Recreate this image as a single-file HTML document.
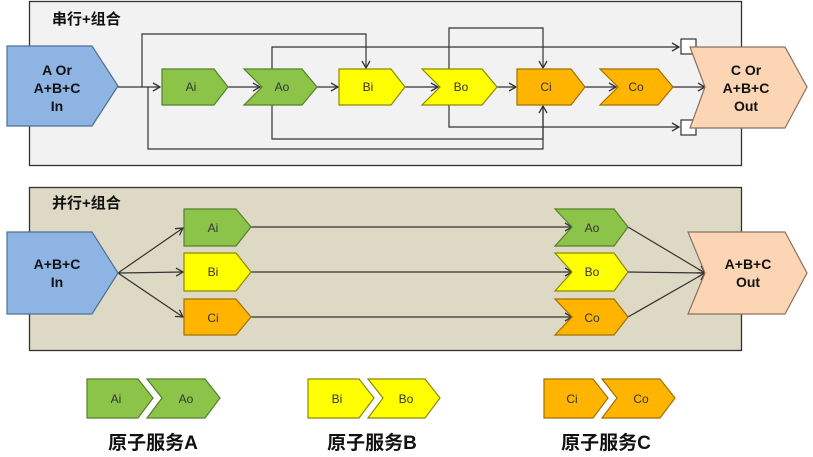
<!DOCTYPE html>
<html><head><meta charset="utf-8"><style>
html,body{margin:0;padding:0;background:#fff;width:813px;height:457px;overflow:hidden}
svg text{font-family:"Liberation Sans","Noto Sans CJK SC",sans-serif}
</style></head><body>
<svg width="813" height="457" viewBox="0 0 813 457" xmlns="http://www.w3.org/2000/svg">
<defs>
<marker id="ar" markerWidth="10" markerHeight="10" refX="8" refY="5" orient="auto" markerUnits="userSpaceOnUse">
<path d="M1,1 L8,5 L1,9" fill="none" stroke="#333" stroke-width="1.3"/></marker>
</defs>
<rect x="29.5" y="1.5" width="712" height="164" fill="#f2f2f2" stroke="#333" stroke-width="1.3"/>
<rect x="29.5" y="187.5" width="712" height="163" fill="#ddd9c4" stroke="#333" stroke-width="1.3"/>
<text x="52" y="24" font-size="15" font-weight="bold" fill="#111">串行+组合</text>
<text x="52" y="208" font-size="15" font-weight="bold" fill="#111">并行+组合</text>

<g stroke="#333" stroke-width="1.2" fill="none">
<line x1="118" y1="87" x2="160" y2="87" marker-end="url(#ar)"/>
<line x1="228" y1="87" x2="260" y2="87" marker-end="url(#ar)"/>
<line x1="317" y1="87" x2="338" y2="87" marker-end="url(#ar)"/>
<line x1="405" y1="87" x2="438" y2="87" marker-end="url(#ar)"/>
<line x1="497" y1="87" x2="516" y2="87" marker-end="url(#ar)"/>
<line x1="585" y1="87" x2="616" y2="87" marker-end="url(#ar)"/>
<line x1="673" y1="87" x2="705" y2="87" marker-end="url(#ar)"/>
<polyline points="142,87 142,34 366,34 366,68" marker-end="url(#ar)"/>
<polyline points="272,69 272,47 679,47" marker-end="url(#ar)"/>
<polyline points="449,69 449,28 543,28 543,68" marker-end="url(#ar)"/>
<polyline points="272,105 272,139 543,139 543,106" marker-end="url(#ar)"/>
<polyline points="148,87 148,149 543,149 543,106"/>
<polyline points="449,105 449,127 679,127" marker-end="url(#ar)"/>
<line x1="118" y1="273" x2="183" y2="228" marker-end="url(#ar)"/>
<line x1="118" y1="273" x2="183" y2="272" marker-end="url(#ar)"/>
<line x1="118" y1="273" x2="183" y2="317" marker-end="url(#ar)"/>
<line x1="251" y1="227" x2="572" y2="227" marker-end="url(#ar)"/>
<line x1="251" y1="272" x2="572" y2="272" marker-end="url(#ar)"/>
<line x1="251" y1="317" x2="572" y2="317" marker-end="url(#ar)"/>
<line x1="628" y1="227" x2="705" y2="273" marker-end="url(#ar)"/>
<line x1="628" y1="272" x2="705" y2="273" marker-end="url(#ar)"/>
<line x1="628" y1="317" x2="705" y2="273" marker-end="url(#ar)"/>
</g>
<rect x="681" y="39" width="15" height="15" fill="#fff" stroke="#333" stroke-width="1.2"/>
<rect x="681" y="120" width="15" height="15" fill="#fff" stroke="#333" stroke-width="1.2"/>

<g stroke-width="1.2">
<polygon points="7,46 92,46 118,86 92,126 7,126" fill="#8db4e2" stroke="#4f6f99"/>
<polygon points="162,69 214,69 228,87 214,105 162,105" fill="#8cc44a" stroke="#55802a"/>
<polygon points="244,69 302,69 317,87 302,105 244,105 262,87" fill="#8cc44a" stroke="#55802a"/>
<polygon points="339,69 391,69 405,87 391,105 339,105" fill="#ffff00" stroke="#8a8a00"/>
<polygon points="422,69 482,69 497,87 482,105 422,105 440,87" fill="#ffff00" stroke="#8a8a00"/>
<polygon points="517,69 571,69 585,87 571,105 517,105" fill="#ffb400" stroke="#a07000"/>
<polygon points="600,69 658,69 673,87 658,105 600,105 618,87" fill="#ffb400" stroke="#a07000"/>
<polygon points="690,47 785,47 807,87 785,128 690,128 705,87" fill="#fcd5b5" stroke="#8a7060"/>
<polygon points="7,232 92,232 118,273 92,314 7,314" fill="#8db4e2" stroke="#4f6f99"/>
<polygon points="184,209 236,209 251,227 236,246 184,246" fill="#8cc44a" stroke="#55802a"/>
<polygon points="184,253 236,253 251,272 236,291 184,291" fill="#ffff00" stroke="#8a8a00"/>
<polygon points="184,299 236,299 251,317 236,335 184,335" fill="#ffb400" stroke="#a07000"/>
<polygon points="555,209 614,209 628,227 614,246 555,246 572,227" fill="#8cc44a" stroke="#55802a"/>
<polygon points="555,253 614,253 628,272 614,291 555,291 572,272" fill="#ffff00" stroke="#8a8a00"/>
<polygon points="555,299 614,299 628,317 614,335 555,335 572,317" fill="#ffb400" stroke="#a07000"/>
<polygon points="688,232 785,232 807,273 785,314 688,314 705,273" fill="#fcd5b5" stroke="#8a7060"/>
<polygon points="87,379 138,379 153,398 138,418 87,418" fill="#8cc44a" stroke="#55802a"/>
<polygon points="147,379 205,379 220,398 205,418 147,418 162,398" fill="#8cc44a" stroke="#55802a"/>
<polygon points="308,379 359,379 374,398 359,418 308,418" fill="#ffff00" stroke="#8a8a00"/>
<polygon points="368,379 425,379 440,398 425,418 368,418 383,398" fill="#ffff00" stroke="#8a8a00"/>
<polygon points="544,379 593,379 608,398 593,418 544,418" fill="#ffb400" stroke="#a07000"/>
<polygon points="602,379 660,379 675,398 660,418 602,418 617,398" fill="#ffb400" stroke="#a07000"/>
</g>

<g font-size="12" text-anchor="middle" fill="#333">
<text x="191" y="91">Ai</text><text x="282" y="91">Ao</text>
<text x="368" y="91">Bi</text><text x="461" y="91">Bo</text>
<text x="546" y="91">Ci</text><text x="636" y="91">Co</text>
<text x="213" y="232">Ai</text><text x="213" y="276">Bi</text><text x="213" y="322">Ci</text>
<text x="592" y="232">Ao</text><text x="592" y="276">Bo</text><text x="592" y="322">Co</text>
<text x="116" y="403">Ai</text><text x="186" y="403">Ao</text>
<text x="337" y="403">Bi</text><text x="406" y="403">Bo</text>
<text x="572" y="403">Ci</text><text x="641" y="403">Co</text>
</g>
<g font-size="14" font-weight="bold" text-anchor="middle" fill="#111">
<text x="57" y="75">A Or</text><text x="57" y="93">A+B+C</text><text x="57" y="111">In</text>
<text x="746" y="75">C Or</text><text x="746" y="93">A+B+C</text><text x="746" y="111">Out</text>
<text x="57" y="269">A+B+C</text><text x="57" y="287">In</text>
<text x="748" y="269">A+B+C</text><text x="748" y="287">Out</text>
</g>
<g font-size="19" font-weight="bold" text-anchor="middle" fill="#111">
<text x="153" y="449">原子服务A</text>
<text x="372" y="449">原子服务B</text>
<text x="606" y="449">原子服务C</text>
</g>
</svg>
</body></html>
